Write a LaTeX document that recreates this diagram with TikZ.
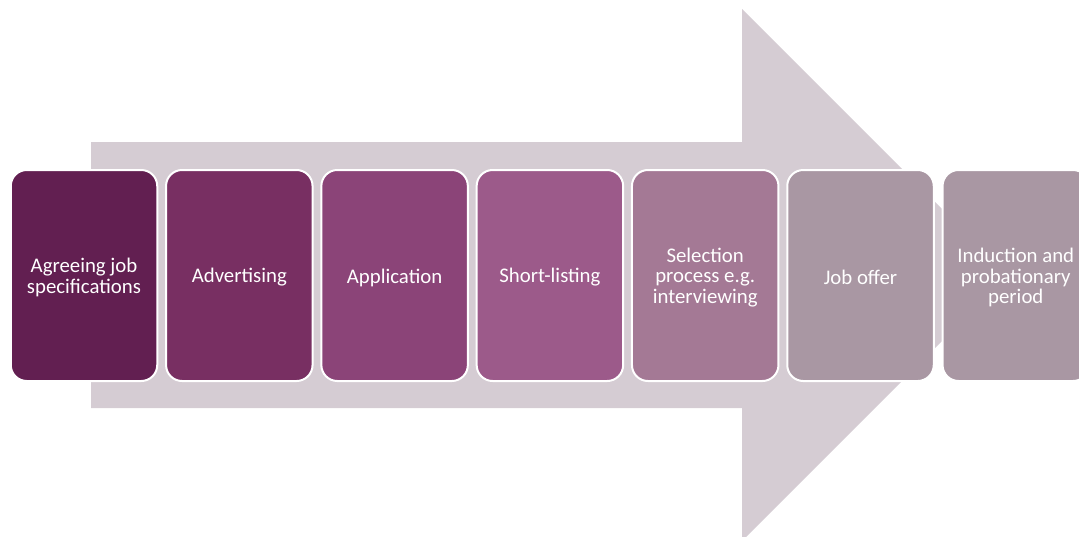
\documentclass[tikz,border=0pt]{standalone}
\usepackage{fontspec}
\setmainfont{Carlito}
\definecolor{arrowc}{HTML}{D5CCD3}
\definecolor{cA}{HTML}{621F51}
\definecolor{cB}{HTML}{782F62}
\definecolor{cC}{HTML}{8B4478}
\definecolor{cD}{HTML}{9C5A8A}
\definecolor{cE}{HTML}{A47995}
\definecolor{cF}{HTML}{A997A3}
\definecolor{cG}{HTML}{A997A3}
\tikzset{
  stepbox/.style={rounded corners=16pt, draw=white, line width=2pt, inner sep=0pt,
    minimum width=146.5pt, minimum height=211pt},
  steptext/.style={text=white, align=center, inner sep=0pt,
    font=\fontsize{20.8}{20.5}\selectfont}
}
\begin{document}
\begin{tikzpicture}[x=1pt,y=-1pt]
\useasboundingbox (0,0) rectangle (1079,536);
\clip (0,0) rectangle (1079,536);
\fill[arrowc] (91,142) -- (742,142) -- (742,9) -- (1008,275) -- (742,541) -- (742,408) -- (91,408) -- cycle;
\node[stepbox, fill=cA] (s1) at (84,275.5) {};
\node[stepbox, fill=cB] (s2) at (239.3,275.5) {};
\node[stepbox, fill=cC] (s3) at (394.6,275.5) {};
\node[stepbox, fill=cD] (s4) at (549.9,275.5) {};
\node[stepbox, fill=cE] (s5) at (705.2,275.5) {};
\node[stepbox, fill=cF] (s6) at (860.5,275.5) {};
\node[stepbox, fill=cG] (s7) at (1015.8,275.5) {};
\node[steptext] (t1) at ([yshift=-2pt]s1.center) {Agreeing job\\specifications};
\node[steptext] (t2) at ([yshift=-2pt]s2.center) {Advertising};
\node[steptext] (t3) at ([yshift=-2pt]s3.center) {Application};
\node[steptext] (t4) at ([yshift=-2pt]s4.center) {Short-listing};
\node[steptext] (t5) at ([yshift=-2pt]s5.center) {Selection\\process e.g.\\interviewing};
\node[steptext] (t6) at ([yshift=-2pt]s6.center) {Job offer};
\node[steptext] (t7) at ([yshift=-2pt]s7.center) {Induction and\\probationary\\period};
\end{tikzpicture}
\end{document}
